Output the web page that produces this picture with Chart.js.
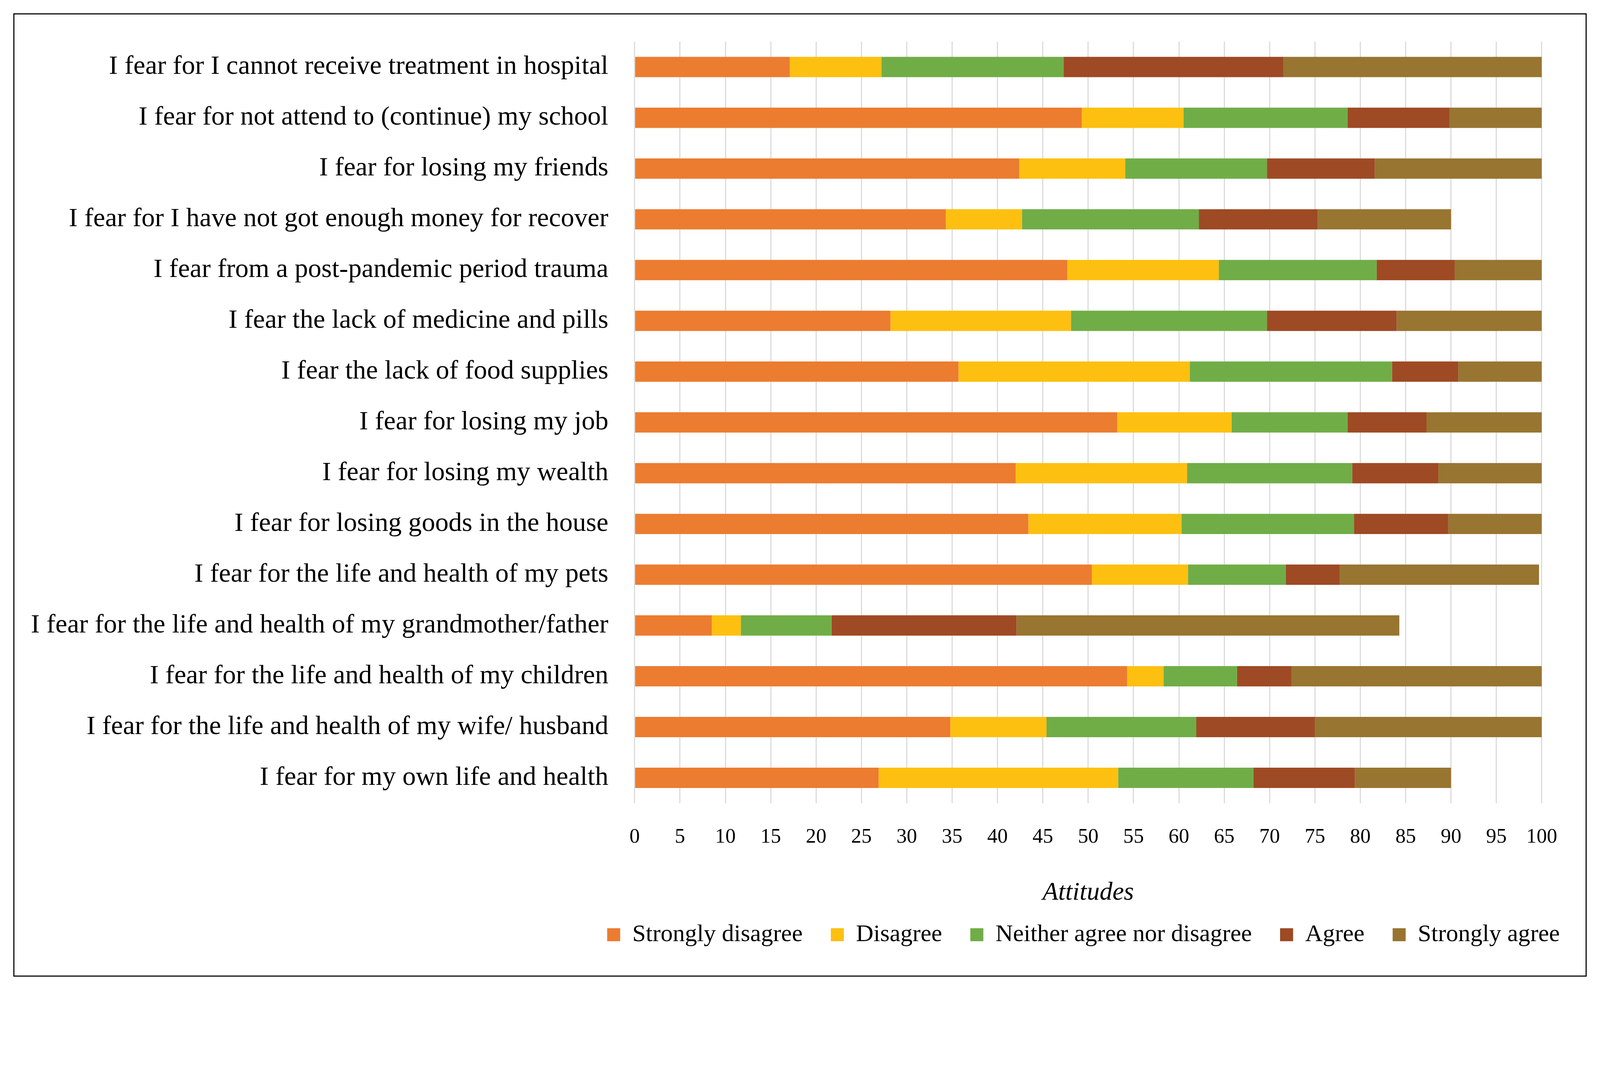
<!DOCTYPE html>
<html>
<head>
<meta charset="utf-8">
<script src="https://cdn.jsdelivr.net/npm/chart.js@4.4.1/dist/chart.umd.min.js"></script>
<style>
    html, body { margin: 0; padding: 0; background: #fff; overflow: hidden; }
    #wrap { position: relative; }
    #frame {
        position: absolute;
        border-style: solid;
        border-color: #111;
        pointer-events: none;
        box-sizing: border-box;
    }
    #chart { position: absolute; left: 0; top: 0; }
</style>
</head>
<body>
<div id="wrap">
    <canvas id="chart"></canvas>
    <div id="frame"></div>
</div>
<script>
// Categories, top to bottom
const categories = [
    'I fear for I cannot receive treatment in hospital',
    'I fear for not attend to (continue) my school',
    'I fear for losing my friends',
    'I fear for I have not got enough money for recover',
    'I fear from a post-pandemic period trauma',
    'I fear the lack of medicine and pills',
    'I fear the lack of food supplies',
    'I fear for losing my job',
    'I fear for losing my wealth',
    'I fear for losing goods in the house',
    'I fear for the life and health of my pets',
    'I fear for the life and health of my grandmother/father',
    'I fear for the life and health of my children',
    'I fear for the life and health of my wife/ husband',
    'I fear for my own life and health'
];

const seriesNames = ['Strongly disagree', 'Disagree', 'Neither agree nor disagree', 'Agree', 'Strongly agree'];

// Percentages per answer (same order as categories)
const stronglyDisagree = [17.1, 49.3, 42.4, 34.3, 47.7, 28.2, 35.7, 53.2, 42.0, 43.4, 50.4, 8.5, 54.3, 34.8, 26.9];
const disagree         = [10.1, 11.2, 11.7, 8.4, 16.7, 19.9, 25.5, 12.6, 18.9, 16.9, 10.6, 3.2, 4.0, 10.6, 26.4];
const neither          = [20.1, 18.1, 15.6, 19.5, 17.4, 21.6, 22.3, 12.8, 18.2, 19.0, 10.8, 10.0, 8.1, 16.5, 14.9];
const agree            = [24.2, 11.2, 11.9, 13.1, 8.6, 14.3, 7.3, 8.7, 9.5, 10.4, 5.9, 20.4, 6.0, 13.1, 11.2];
const stronglyAgree    = [28.5, 10.2, 18.4, 14.7, 9.6, 16.0, 9.2, 12.7, 11.4, 10.3, 22.0, 42.2, 27.6, 25.0, 10.6];

const xTicks = [0, 5, 10, 15, 20, 25, 30, 35, 40, 45, 50, 55, 60, 65, 70, 75, 80, 85, 90, 95, 100];

const colors = ['#EC7C30', '#FDC010', '#70AD47', '#9E4A24', '#987530'];
const serif = "'Liberation Serif', 'DejaVu Serif', serif";

const values = [stronglyDisagree, disagree, neither, agree, stronglyAgree];

// Everything is laid out for a 4422 x 2744 page and scaled to the real viewport
const W = window.innerWidth, H = window.innerHeight;
const s = Math.min(W / 4422, H / 2744);
const px = v => v * s;

const wrap = document.getElementById('wrap');
wrap.style.width = px(4422) + 'px';
wrap.style.height = px(2744) + 'px';

const frame = document.getElementById('frame');
frame.style.left = px(37) + 'px';
frame.style.top = px(37) + 'px';
frame.style.width = px(4348) + 'px';
frame.style.height = px(2662) + 'px';
frame.style.borderWidth = px(4) + 'px';

const canvas = document.getElementById('chart');
canvas.style.width = px(4422) + 'px';
canvas.style.height = px(2744) + 'px';
canvas.width = Math.round(px(4422));
canvas.height = Math.round(px(2744));

// Centre the legend under the plot area (Excel style) instead of the canvas
const legendUnderPlot = {
    id: 'legendUnderPlot',
    afterLayout(chart) {
        const lg = chart.legend;
        const area = chart.chartArea;
        const half = (lg.right - lg.left) / 2;
        const mid = (area.left + area.right) / 2 - px(13);
        lg.left = mid - half;
        lg.right = mid + half;
    }
};

const ctx = canvas.getContext('2d');
new Chart(ctx, {
    type: 'bar',
    data: {
        labels: categories,
        datasets: seriesNames.map((name, i) => ({
            label: name,
            data: values[i],
            backgroundColor: colors[i],
            borderWidth: 0,
            barPercentage: 0.4,
            categoryPercentage: 1.0
        }))
    },
    options: {
        indexAxis: 'y',
        responsive: false,
        devicePixelRatio: 1,
        animation: false,
        layout: {
            padding: { left: 0, right: px(161), top: px(115), bottom: px(117) }
        },
        plugins: {
            legend: {
                position: 'bottom',
                labels: {
                    color: '#000',
                    font: { family: serif, size: px(67) },
                    boxWidth: px(36),
                    boxHeight: px(36),
                    padding: px(78)
                }
            },
            tooltip: { enabled: false }
        },
        scales: {
            x: {
                stacked: true,
                min: 0,
                max: 100,
                afterBuildTicks: function(scale) {
                    scale.ticks = xTicks.map(v => ({ value: v }));
                },
                afterFit: function(scale) {
                    scale.height = px(252);
                },
                grid: {
                    color: '#D9D9D9',
                    lineWidth: px(3),
                    drawTicks: false
                },
                border: { display: false },
                ticks: {
                    color: '#000',
                    padding: px(60),
                    maxRotation: 0,
                    autoSkip: false,
                    font: { family: serif, size: px(57) }
                },
                title: {
                    display: true,
                    text: 'Attitudes',
                    color: '#000',
                    font: { family: serif, size: px(71), style: 'italic' },
                    padding: { top: 0, bottom: -px(39) }
                }
            },
            y: {
                stacked: true,
                afterFit: function(scale) {
                    scale.width = px(1754);
                },
                grid: { display: false },
                border: { display: false },
                ticks: {
                    color: '#000',
                    padding: px(64),
                    autoSkip: false,
                    font: { family: serif, size: px(74) }
                }
            }
        }
    },
    plugins: [legendUnderPlot]
});
</script>
</body>
</html>
